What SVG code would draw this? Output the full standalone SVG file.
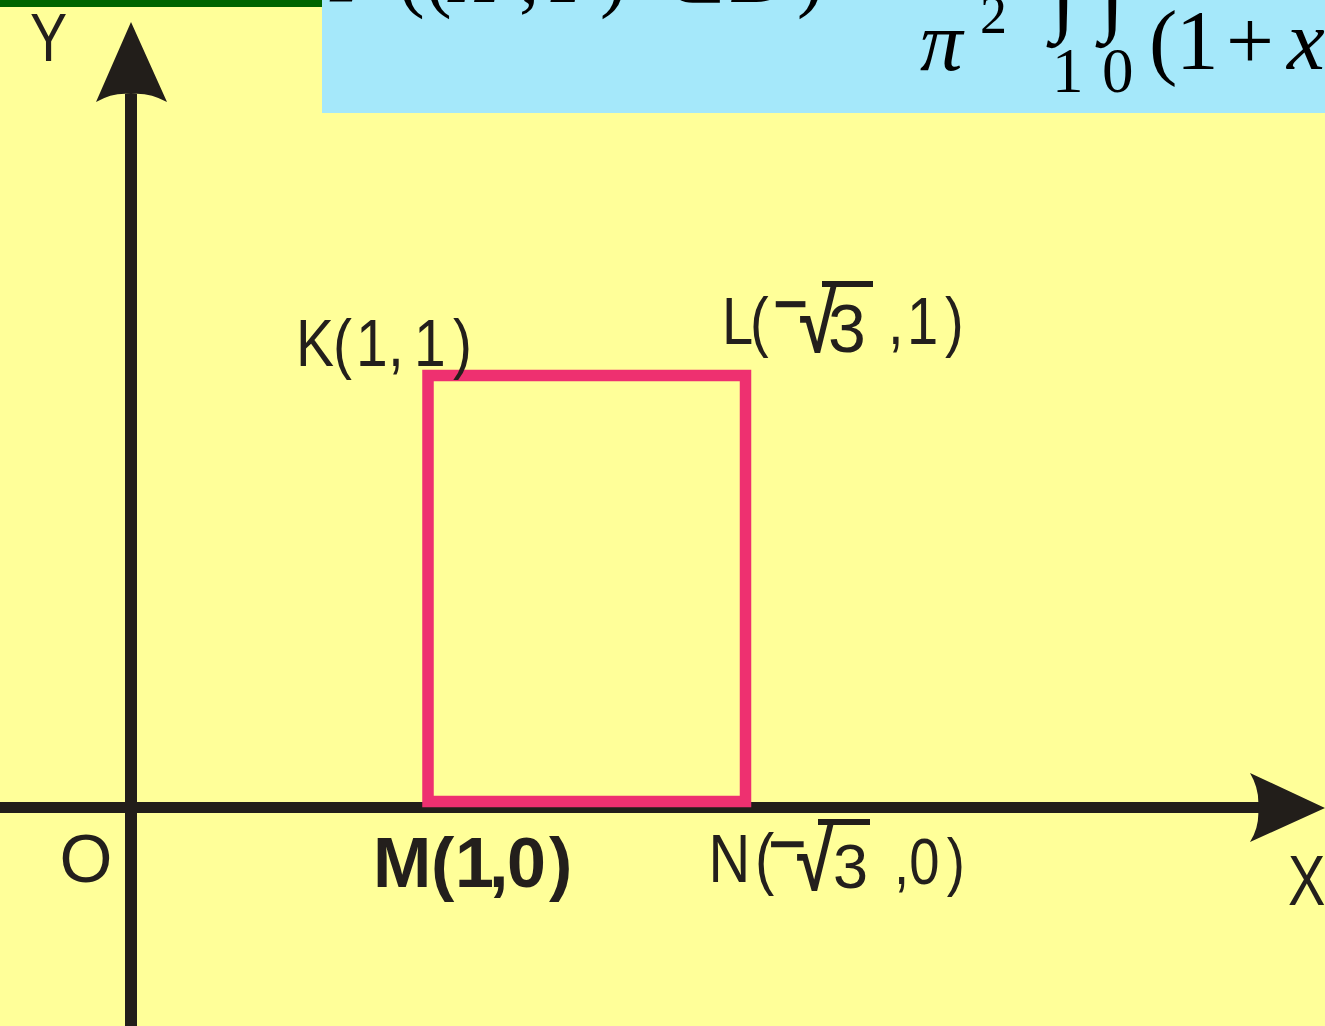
<svg xmlns="http://www.w3.org/2000/svg" width="1325" height="1026" viewBox="0 0 1325 1026">
<style>
.lab{font-family:"Liberation Sans",Arial,sans-serif;fill:#231F1C}
.rad{font-family:"Liberation Sans",Arial,sans-serif;font-weight:bold;fill:#231F1C}
.fm{font-family:"Liberation Serif","Times New Roman",serif;fill:#000}
.it{font-style:italic}
.ax{fill:#221E1A}
</style>
<rect width="1325" height="1026" fill="#FFFF99"/>
<g id="formula">
<rect x="322" y="0" width="1003" height="113" fill="#A5E8FA"/>
<rect x="0" y="0" width="322" height="7" fill="#006400"/>
<text class="fm" font-size="80" y="2"><tspan class="it" x="330">P</tspan><tspan x="398">(</tspan><tspan x="425">(</tspan><tspan class="it" x="450">X</tspan><tspan x="519">,</tspan><tspan class="it" x="543">Y</tspan><tspan x="600">)</tspan><tspan x="657">∈</tspan><tspan class="it" x="732">D</tspan><tspan x="797">)</tspan></text>
<text class="fm it" font-size="85" x="920" y="70">π</text>
<text class="fm" font-size="54" x="980" y="33">2</text>
<text class="fm" font-size="90" font-weight="bold" y="24"><tspan x="1051">∫</tspan><tspan x="1100">∫</tspan></text>
<text class="fm" font-size="63" y="92"><tspan x="1052">1</tspan><tspan x="1102">0</tspan></text>
<text class="fm" font-size="85" y="69"><tspan x="1149">(</tspan><tspan x="1176">1</tspan><tspan x="1226">+</tspan><tspan class="it" x="1287">x</tspan></text>
</g>
<g id="axes">
<rect class="ax" x="125" y="94" width="12" height="932"/>
<path class="ax" d="M131,22 L167,102 Q149,92 131,94 Q113,92 96,102 Z"/>
<rect class="ax" x="0" y="802" width="1259" height="11"/>
<path class="ax" d="M1325,808 L1250,773 Q1260,790 1258,808 Q1260,826 1250,842 Z"/>
</g>
<g id="rectangle">
<rect x="428" y="375.5" width="317.5" height="426" fill="none" stroke="#EE3070" stroke-width="11.5"/>
</g>
<g id="label-Y"><text class="lab" font-size="68" transform="translate(30,61) scale(0.82,1)" x="0" y="0">Y</text></g>
<g id="label-X"><text class="lab" font-size="70" transform="translate(1288,905) scale(0.8,1)" x="0" y="0">X</text></g>
<g id="label-O"><text class="lab" font-size="68" x="59.6" y="882">O</text></g>
<g id="label-K"><text class="lab" font-size="67" transform="translate(296,366) scale(0.85,1)" y="0"><tspan x="0">K</tspan><tspan x="43.5">(</tspan><tspan x="70.6">1</tspan><tspan x="108.2">,</tspan><tspan x="138.8">1</tspan><tspan x="184.7">)</tspan></text></g>
<g id="label-L">
<text class="lab" font-size="66" transform="translate(722,344) scale(0.85,1)" y="0"><tspan x="0">L</tspan><tspan x="33">(</tspan></text>
<text class="lab" font-size="86" transform="translate(772.7,333) scale(0.71,1)" x="0" y="0">−</text>
<text class="rad" font-size="66" transform="translate(800,352) scale(1,1.25)" x="0" y="0">√</text>
<rect class="ax" x="822" y="281" width="51" height="6"/>
<text class="lab" font-size="68" x="828" y="352">3</text>
<text class="lab" font-size="66" transform="translate(888,344) scale(0.85,1)" y="0"><tspan x="0">,</tspan><tspan x="22.4">1</tspan><tspan x="67">)</tspan></text>
</g>
<g id="label-M"><text class="lab" font-size="70" font-weight="bold" y="887"><tspan x="373">M</tspan><tspan x="431">(</tspan><tspan x="455">1</tspan><tspan x="489">,</tspan><tspan x="507">0</tspan><tspan x="549">)</tspan></text></g>
<g id="label-N">
<text class="lab" font-size="68" transform="translate(708.6,882) scale(0.85,1)" y="0"><tspan x="0">N</tspan><tspan x="54.6">(</tspan></text>
<text class="lab" font-size="86" transform="translate(767.7,872.7) scale(0.78,1)" x="0" y="0">−</text>
<text class="rad" font-size="66" transform="translate(797,890) scale(1,1.25)" x="0" y="0">√</text>
<rect class="ax" x="818" y="819" width="52" height="6"/>
<text class="lab" font-size="63" x="833" y="888">3</text>
<text class="lab" font-size="64" transform="translate(894,884) scale(0.85,1)" y="0"><tspan x="0">,</tspan><tspan x="18">0</tspan><tspan x="62">)</tspan></text>
</g>
</svg>
